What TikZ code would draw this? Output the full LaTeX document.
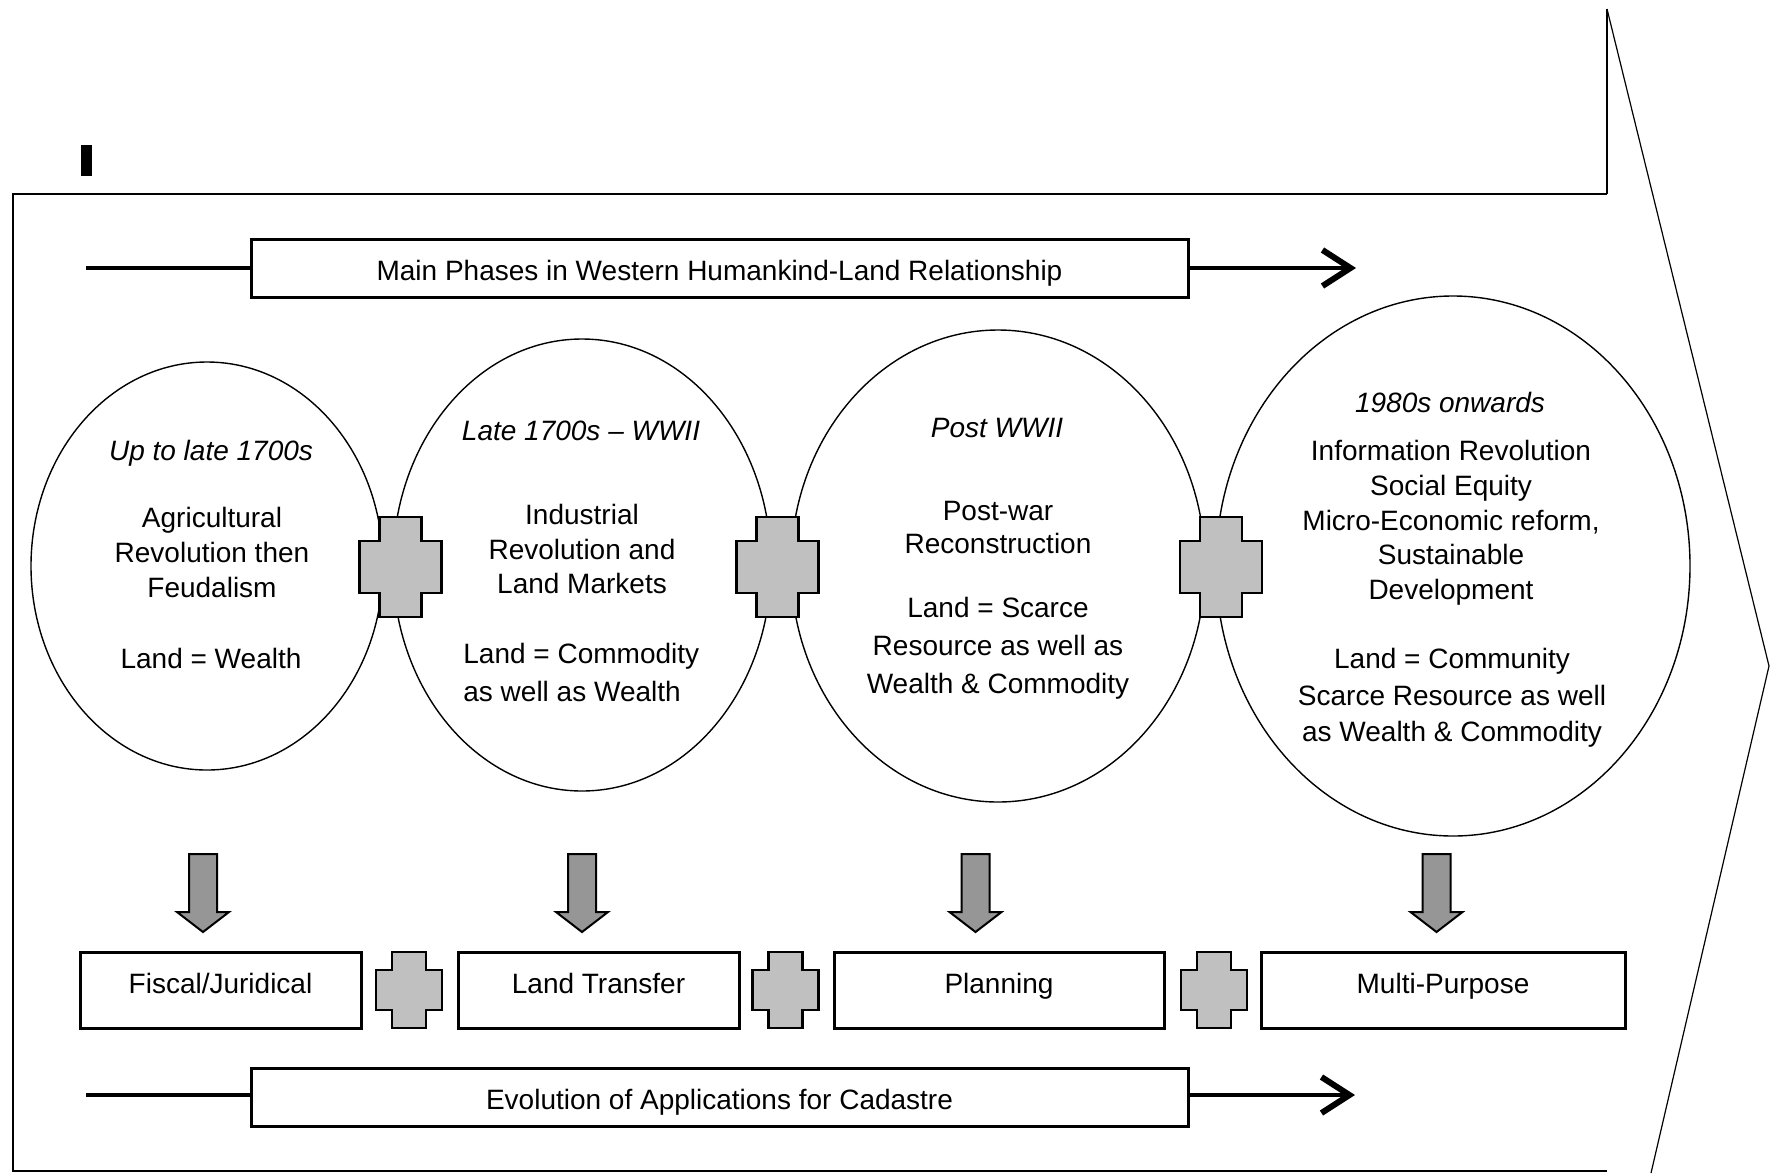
\documentclass[tikz,border=0pt]{standalone}
\usepackage{fontspec}
\setmainfont{Liberation Sans}
\usetikzlibrary{arrows.meta,shapes.geometric}
\definecolor{crossgray}{HTML}{C0C0C0}
\definecolor{arrowgray}{HTML}{969696}
\tikzset{
  txt/.style={font=\fontsize{14}{17.25}\selectfont, align=center, inner sep=0pt, text depth=0pt},
  hdr/.style={txt, font=\fontsize{14}{17.25}\selectfont\itshape},
  phase/.style={draw, ellipse, line width=0.7pt, inner sep=0pt},
  appbox/.style={draw, rectangle, line width=1.5pt, minimum height=38pt, inner sep=0pt,
    font=\fontsize{14}{17}\selectfont, text height=3pt, text depth=0pt},
  titlebox/.style={draw, rectangle, line width=1.5pt, minimum width=468.5pt, minimum height=29pt,
    inner sep=0pt, font=\fontsize{14}{17}\selectfont, text height=12pt, text depth=0pt},
  timeline/.style={line width=2.4pt},
  barb/.style={-{Straight Barb[length=14pt,width=18pt,line width=3pt]}},
  bigcross/.pic={\draw[line width=1.4pt, fill=crossgray]
    (-21,-50) -- (21,-50) -- (21,-26) -- (41,-26) -- (41,26) -- (21,26) -- (21,50)
    -- (-21,50) -- (-21,26) -- (-41,26) -- (-41,-26) -- (-21,-26) -- cycle;},
  smallcross/.pic={\draw[line width=1.4pt, fill=crossgray]
    (-17,-38) -- (17,-38) -- (17,-20) -- (33,-20) -- (33,20) -- (17,20) -- (17,38)
    -- (-17,38) -- (-17,20) -- (-33,20) -- (-33,-20) -- (-17,-20) -- cycle;},
  downarrow/.pic={\draw[line width=1pt, fill=arrowgray]
    (-14,0) -- (14,0) -- (14,58) -- (26,58) -- (0,78) -- (-26,58) -- (-14,58) -- cycle;}
}
\begin{document}
\begin{tikzpicture}[x=0.5pt,y=-0.5pt]
\useasboundingbox (0,0) rectangle (1771,1173);

% outer frame / block arrow
\draw[line width=1.4pt] (1607,1171) -- (13,1171) -- (13,194) -- (1607,194);
\draw[line width=1pt] (1607,194) -- (1607,9);
\draw[line width=0.6pt] (1607,9) -- (1769,666) -- (1651,1173);
\fill (81,145) rectangle (92,176);

% top timeline
\node[titlebox] (tbox) at (719.5,268) {Main Phases in Western Humankind-Land Relationship};
\coordinate (tl) at (86,268);
\coordinate (tr) at (1356,268);
\draw[timeline] (tl) -- (tbox.west);
\draw[timeline, barb] (tbox.east) -- (tr);

% phase ellipses
\node[phase, minimum width=176pt, minimum height=204pt] (c1) at (207,566) {};
\node[phase, minimum width=189pt, minimum height=226pt] (c2) at (582,565) {};
\node[phase, minimum width=207pt, minimum height=236pt] (c3) at (998,566) {};
\node[phase, minimum width=237pt, minimum height=270pt] (c4) at (1453,566) {};

% crosses between phases
\pic (x1) at (400.5,567) {bigcross};
\pic (x2) at (777.5,567) {bigcross};
\pic (x3) at (1221,567) {bigcross};

% phase texts
\node[hdr] (h1) at (211,450) {Up to late 1700s};
\node[txt, font=\fontsize{14}{17.5}\selectfont] (a1) at (212,552) {Agricultural\\Revolution then\\Feudalism};
\node[txt] (l1) at (211,658) {Land = Wealth};

\node[hdr] (h2) at (581,431) {Late 1700s -- WWII};
\node[txt] (a2) at (582,549) {Industrial\\Revolution and\\Land Markets};
\node[txt, align=left, anchor=west, font=\fontsize{14}{19}\selectfont] (l2) at (463,672) {Land = Commodity\\as well as Wealth};

\node[hdr] (h3) at (997,428) {Post WWII};
\node[txt, font=\fontsize{14}{16.5}\selectfont] (a3) at (998,527) {Post-war\\Reconstruction};
\node[txt, font=\fontsize{14}{19}\selectfont] (l3) at (998,645) {Land = Scarce\\Resource as well as\\Wealth \& Commodity};

\node[hdr] (h4) at (1450,402) {1980s onwards};
\node[txt, font=\fontsize{14}{17.4}\selectfont] (a4) at (1451,520) {Information Revolution\\Social Equity\\Micro-Economic reform,\\Sustainable\\Development};
\node[txt, font=\fontsize{14}{18.3}\selectfont] (l4) at (1452,695) {Land = Community\\Scarce Resource as well\\as Wealth \& Commodity};

% down arrows
\pic (d1) at (203,854) {downarrow};
\pic (d2) at (582,854) {downarrow};
\pic (d3) at (975.5,854) {downarrow};
\pic (d4) at (1436.5,854) {downarrow};

% application boxes
\node[appbox, minimum width=140.5pt] (b1) at (220.5,990) {Fiscal/Juridical};
\node[appbox, minimum width=140.5pt] (b2) at (598.5,990) {Land Transfer};
\node[appbox, minimum width=165pt] (b3) at (999,990) {Planning};
\node[appbox, minimum width=182pt] (b4) at (1443,990) {Multi-Purpose};
\pic (s1) at (409,990) {smallcross};
\pic (s2) at (785.5,990) {smallcross};
\pic (s3) at (1214,990) {smallcross};

% bottom timeline
\node[titlebox] (bbox) at (719.5,1097) {Evolution of Applications for Cadastre};
\coordinate (bl) at (86,1095);
\coordinate (br) at (1355,1095);
\draw[timeline] (bl) -- (bl -| bbox.west);
\draw[timeline, barb] (br -| bbox.east) -- (br);
\end{tikzpicture}
\end{document}
